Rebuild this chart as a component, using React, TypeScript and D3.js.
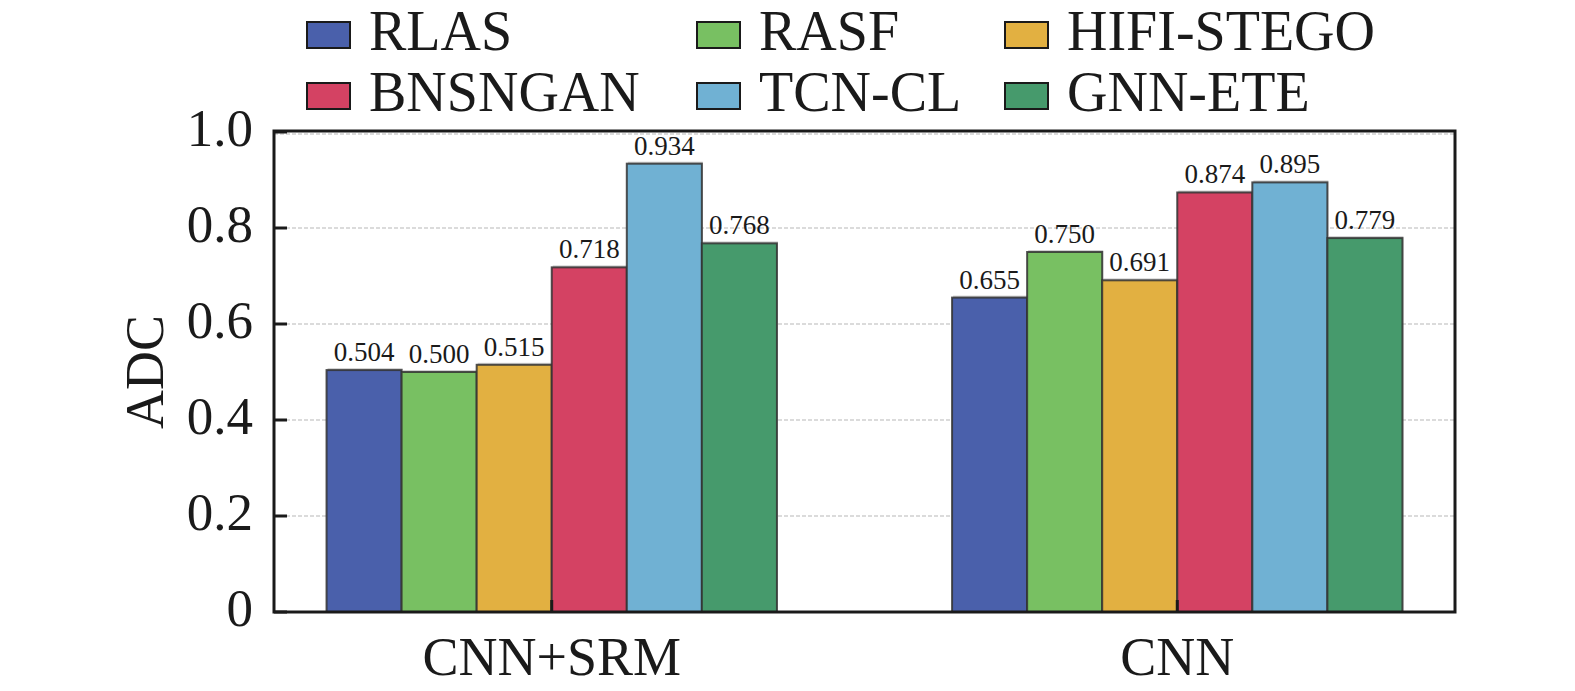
import * as d3 from "d3"
import React from "react"

const groups = ["CNN+SRM", "CNN"]
const methods = ["RLAS", "RASF", "HIFI-STEGO", "BNSNGAN", "TCN-CL", "GNN-ETE"]
const colors = ["#4a60ab", "#78c062", "#e2b041", "#d44263", "#70b1d3", "#469a6c"]

// one list per method, in group order
const rlas = [0.504, 0.655]
const rasf = [0.5, 0.75]
const hifiStego = [0.515, 0.691]
const bnsngan = [0.718, 0.874]
const tcnCl = [0.934, 0.895]
const gnnEte = [0.768, 0.779]
const series = [rlas, rasf, hifiStego, bnsngan, tcnCl, gnnEte]

const yTicks = [0, 0.2, 0.4, 0.6, 0.8, 1.0]
const yTickLabels = ["0", "0.2", "0.4", "0.6", "0.8", "1.0"]

const width = 1575,
  height = 691
const left = 274,
  right = 1455,
  top = 132,
  bottom = 612
const barW = 0.12
const font = "'Liberation Serif', 'Times New Roman', serif"
const ink = "#1a1a1a"

export default function App() {
  const x = d3.scaleLinear().domain([-0.444, 1.444]).range([left, right])
  const y = d3.scaleLinear().domain([0, 1]).range([bottom, top])
  const bw = x(barW) - x(0)

  const bars = []
  groups.forEach((g, gi) => {
    series.forEach((vals, mi) => {
      const cx = x(gi + (mi - 2.5) * barW)
      bars.push({ key: g + mi, x0: cx - bw / 2, cx, v: vals[gi], color: colors[mi] })
    })
  })

  // legend column starts (patch x)
  const legendCols = [307, 697, 1005]
  const legendRows = [50, 111]

  return (
    <div style={{ position: "absolute", left: 0, top: 0 }}>
      <svg width={width} height={height} style={{ display: "block", background: "#fff" }}>
        {/* grid */}
        {yTicks.slice(1).map((t) => (
          <line
            key={"g" + t}
            x1={left}
            x2={right}
            y1={t === 1 ? y(t) + 2 : y(t)}
            y2={t === 1 ? y(t) + 2 : y(t)}
            stroke="#cfcfcf"
            strokeWidth={1.5}
            strokeDasharray="4,2"
          />
        ))}

        {/* bars */}
        {bars.map((b) => (
          <g key={b.key}>
            <rect
              x={b.x0 + 1}
              y={y(b.v) - 2}
              width={bw}
              height={bottom - y(b.v) + 2}
              fill="#9a9a9a"
              opacity={0.45}
            />
            <rect
              x={b.x0}
              y={y(b.v)}
              width={bw}
              height={bottom - y(b.v)}
              fill={b.color}
              stroke="#333"
              strokeOpacity={0.85}
              strokeWidth={2}
            />
          </g>
        ))}

        {/* value labels */}
        {bars.map((b) => (
          <text
            key={"t" + b.key}
            x={b.cx}
            y={y(b.v) - 9}
            textAnchor="middle"
            fontFamily={font}
            fontSize={27}
            fill={ink}
          >
            {b.v.toFixed(3)}
          </text>
        ))}

        {/* frame */}
        <rect
          x={left}
          y={top - 1}
          width={right - left}
          height={bottom - top + 1}
          fill="none"
          stroke={ink}
          strokeWidth={3}
        />

        {/* y ticks */}
        {yTicks.map((t, i) => (
          <g key={"y" + t}>
            <line x1={left} x2={left + 13} y1={y(t)} y2={y(t)} stroke={ink} strokeWidth={3} />
            <text
              x={253}
              y={y(t) + 14}
              textAnchor="end"
              fontFamily={font}
              fontSize={53}
              fill={ink}
            >
              {yTickLabels[i]}
            </text>
          </g>
        ))}

        {/* x ticks and labels */}
        {groups.map((g, gi) => (
          <g key={"x" + g}>
            <line x1={x(gi)} x2={x(gi)} y1={bottom} y2={bottom - 12} stroke={ink} strokeWidth={3} />
            <text
              x={x(gi)}
              y={675}
              textAnchor="middle"
              fontFamily={font}
              fontSize={54}
              fill={ink}
            >
              {g}
            </text>
          </g>
        ))}

        {/* y label */}
        <text
          transform={`translate(163, ${(top + bottom) / 2}) rotate(-90)`}
          textAnchor="middle"
          fontFamily={font}
          fontSize={54}
          fill={ink}
        >
          ADC
        </text>

        {/* legend */}
        {methods.map((m, i) => {
          const cx = legendCols[i % 3]
          const by = legendRows[Math.floor(i / 3)]
          return (
            <g key={"l" + m}>
              <rect
                x={cx}
                y={by - 28}
                width={43}
                height={26}
                fill={colors[i]}
                stroke={ink}
                strokeWidth={2}
              />
              <text x={cx + 62} y={by} fontFamily={font} fontSize={56} fill={ink}>
                {m}
              </text>
            </g>
          )
        })}
      </svg>
    </div>
  )
}
